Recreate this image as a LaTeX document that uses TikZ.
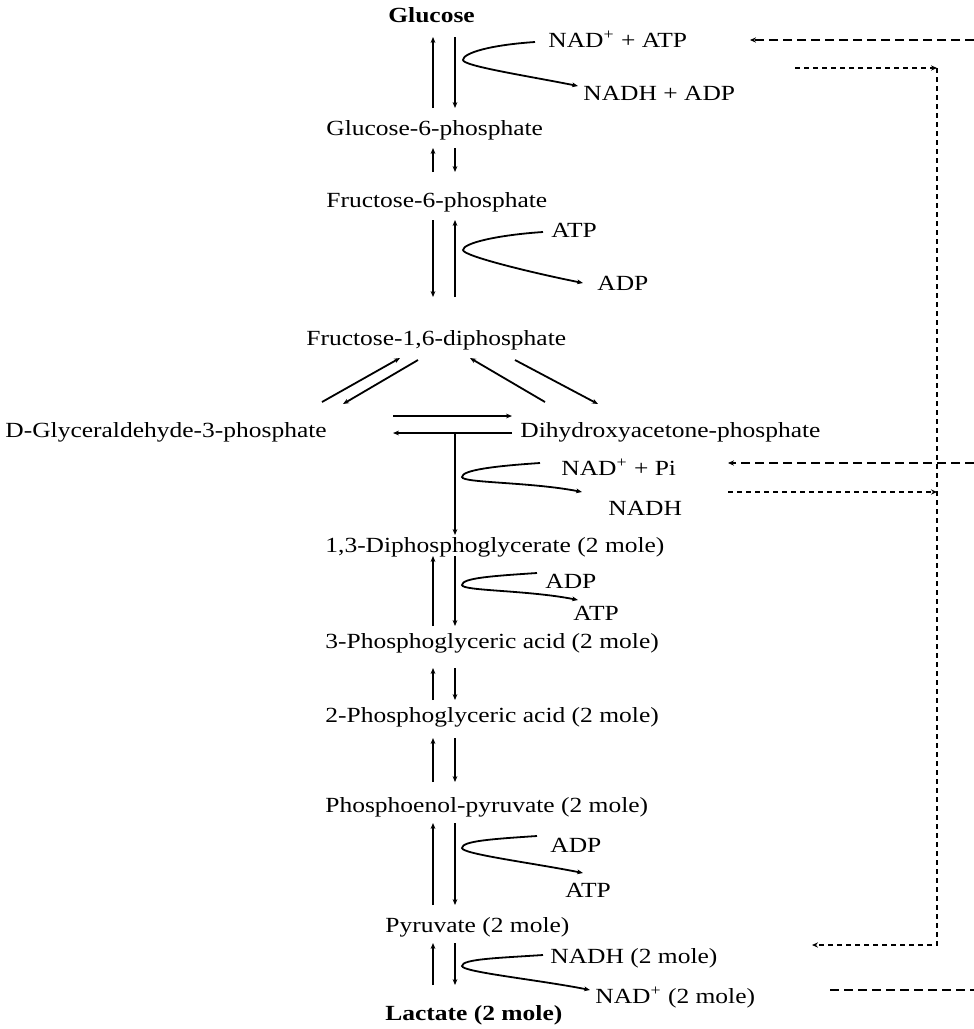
\documentclass[tikz,border=0pt]{standalone}
\usepackage{fontspec}
\setmainfont[FakeStretch=1.18]{Liberation Serif}
\usetikzlibrary{arrows.meta}
\begin{document}
\begin{tikzpicture}[x=0.5pt,y=-0.5pt,
  lbl/.style={anchor=base west,inner sep=0pt,font=\fontsize{10.8}{12}\selectfont},
  blbl/.style={lbl,font=\fontsize{10.8}{12}\selectfont\bfseries},
  rx/.style={line width=0.9pt,-{Stealth[length=3pt,width=2.4pt]}},
  longdash/.style={line width=0.9pt,dash pattern=on 4.5pt off 2.5pt},
  shortdash/.style={line width=0.9pt,dash pattern=on 2.5pt off 2pt},
  tipa/.style={-{Stealth[length=3pt,width=2.6pt]}}]
\useasboundingbox (0,0) rectangle (974,1029);
\fill[white] (0,0) rectangle (974,1029);
% labels
\node[blbl] (glc) at (388,22) {Glucose};
\node[lbl] (nadatp) at (548,47) {NAD\textsuperscript{+} + ATP};
\node[lbl] (nadhadp) at (583,100) {NADH + ADP};
\node[lbl] (g6p) at (326,135) {Glucose-6-phosphate};
\node[lbl] (f6p) at (326,207) {Fructose-6-phosphate};
\node[lbl] (atp1) at (551,237) {ATP};
\node[lbl] (adp1) at (597,290) {ADP};
\node[lbl] (f16) at (306,345) {Fructose-1,6-diphosphate};
\node[lbl] (g3p) at (5,437) {D-Glyceraldehyde-3-phosphate};
\node[lbl] (dhap) at (520,437) {Dihydroxyacetone-phosphate};
\node[lbl] (nadpi) at (561,475) {NAD\textsuperscript{+} + Pi};
\node[lbl] (nadh1) at (608,515) {NADH};
\node[lbl] (dpg) at (325,552) {1,3-Diphosphoglycerate (2 mole)};
\node[lbl] (adp2) at (545,588) {ADP};
\node[lbl] (atp2) at (573,620) {ATP};
\node[lbl] (pg3) at (325,648) {3-Phosphoglyceric acid (2 mole)};
\node[lbl] (pg2) at (325,722) {2-Phosphoglyceric acid (2 mole)};
\node[lbl] (pep) at (325,812) {Phosphoenol-pyruvate (2 mole)};
\node[lbl] (adp3) at (550,852) {ADP};
\node[lbl] (atp3) at (565,897) {ATP};
\node[lbl] (pyr) at (385,932) {Pyruvate (2 mole)};
\node[lbl] (nadh2) at (550,963) {NADH (2 mole)};
\node[lbl] (nad2) at (595,1003) {NAD\textsuperscript{+} (2 mole)};
\node[blbl] (lac) at (385,1020) {Lactate (2 mole)};
% vertical pairs
\draw[rx] (433,108) -- (433,37);  \draw[rx] (455,37) -- (455,108);
\draw[rx] (433,172) -- (433,148); \draw[rx] (455,148) -- (455,172);
\draw[rx] (433,220) -- (433,297); \draw[rx] (455,297) -- (455,220);
\draw[rx] (433,626) -- (433,556); \draw[rx] (455,556) -- (455,626);
\draw[rx] (433,700) -- (433,668); \draw[rx] (455,668) -- (455,700);
\draw[rx] (433,782) -- (433,738); \draw[rx] (455,738) -- (455,782);
\draw[rx] (433,905) -- (433,823); \draw[rx] (455,823) -- (455,905);
\draw[rx] (433,985) -- (433,943); \draw[rx] (455,943) -- (455,985);
% diagonals from F-1,6-DP
\draw[rx] (322,402) -- (400,358);
\draw[rx] (418,360) -- (343,404);
\draw[rx] (545,402) -- (470,358);
\draw[rx] (515,360) -- (598,404);
% triose isomerase
\draw[rx] (393,416) -- (512,416);
\draw[rx] (512,433) -- (393,433);
\draw[rx] (455,433) -- (455,535);
% side curves
\newcommand{\sidecurve}[3]{\draw[rx] (#1) .. controls +(-45,3) and +(0,-7) .. (#2) .. controls +(0,6) and +(-50,-10) .. (#3);}
\sidecurve{535,42}{463,60}{578,86}
\sidecurve{543,232}{463,250}{583,283}
\sidecurve{540,463}{462,477}{582,492}
\sidecurve{537,573}{462,585}{578,600}
\sidecurve{537,836}{462,848}{583,873}
\sidecurve{543,955}{462,966}{590,990}
% dashed feedback
\coordinate (c1) at (937,68);
\coordinate (c2) at (937,945);
\draw[longdash,tipa] (974,40) -- (750,40);
\draw[shortdash,tipa] (795,68) -- (c1);
\draw[shortdash,tipa] (c1) -- (c2) -- (812,945);
\draw[longdash,tipa] (974,463) -- (728,463);
\draw[shortdash,tipa] (728,492) -- (937,492);
\draw[longdash] (830,990) -- (974,990);
\end{tikzpicture}
\end{document}
